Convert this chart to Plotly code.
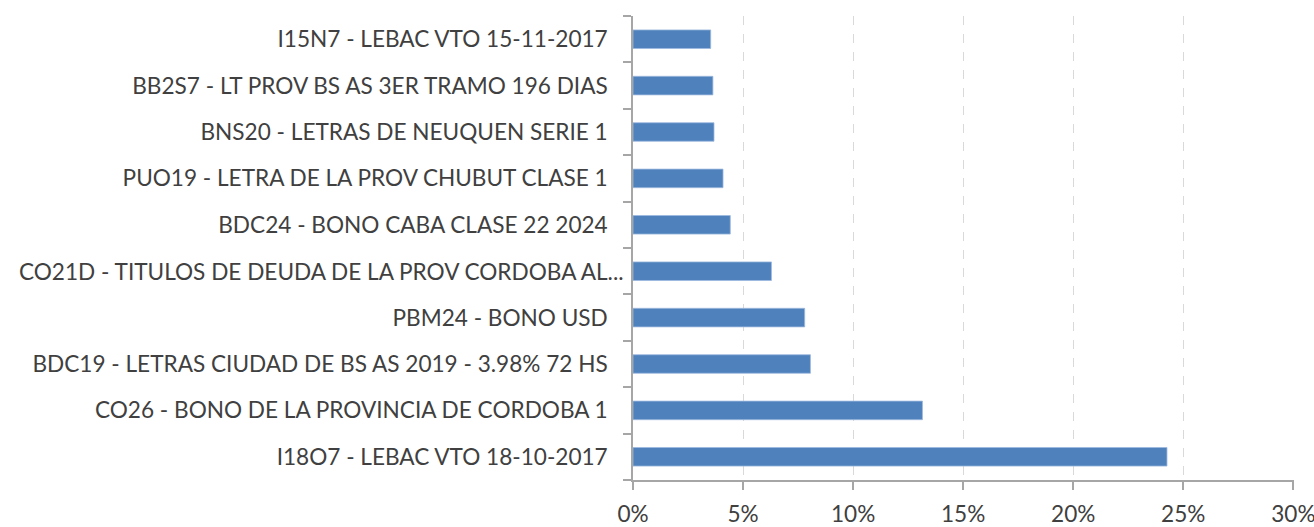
import plotly.graph_objects as go

# Instruments, listed bottom to top as drawn on the category axis
instruments = [
    "I18O7 - LEBAC VTO 18-10-2017",
    "CO26 - BONO DE LA PROVINCIA DE CORDOBA 1",
    "BDC19 - LETRAS CIUDAD DE BS AS 2019 - 3.98% 72 HS",
    "PBM24 - BONO USD",
    "CO21D - TITULOS DE DEUDA DE LA PROV CORDOBA AL...",
    "BDC24 - BONO CABA CLASE 22 2024",
    "PUO19 - LETRA DE LA PROV CHUBUT CLASE 1",
    "BNS20 - LETRAS DE NEUQUEN SERIE 1",
    "BB2S7 - LT PROV BS AS 3ER TRAMO 196 DIAS",
    "I15N7 - LEBAC VTO 15-11-2017",
]
# Portfolio weight of each instrument (fraction)
weights = [0.2426, 0.1315, 0.0806, 0.0780, 0.0629, 0.0442, 0.0409, 0.0368, 0.0363, 0.0353]

x_ticks = [0, 0.05, 0.10, 0.15, 0.20, 0.25, 0.30]
x_tick_labels = ["0%", "5%", "10%", "15%", "20%", "25%", "30%"]

# The truncated (longest) name is drawn as its own label, set closer to the axis
long_name = "CO21D - TITULOS DE DEUDA DE LA PROV CORDOBA AL..."
y_tick_labels = ["" if name == long_name else name for name in instruments]

FONT = "Lato"
SIZE = 22.6
TEXT = "#404040"
AXIS = "#A6A6A6"

fig = go.Figure(
    go.Bar(
        x=weights,
        y=instruments,
        orientation="h",
        marker=dict(color="#4F81BD", line=dict(color="#9DB9DE", width=0.8)),
        hoverinfo="x+y",
    )
)

fig.add_annotation(
    x=0,
    y=long_name,
    xref="x",
    yref="y",
    text=long_name,
    showarrow=False,
    xanchor="right",
    yanchor="middle",
    xshift=-7,
    font=dict(family=FONT, size=SIZE, color=TEXT),
)

fig.update_layout(
    width=1314,
    height=527,
    margin=dict(l=633, r=20, t=16, b=47, autoexpand=False),
    paper_bgcolor="white",
    plot_bgcolor="white",
    bargap=0.6,
    showlegend=False,
    font=dict(family=FONT, size=SIZE, color=TEXT),
)

fig.update_xaxes(
    range=[0, 0.3003],
    tickvals=x_ticks,
    ticktext=x_tick_labels,
    ticks="outside",
    ticklen=8,
    tickcolor=AXIS,
    tickwidth=1.5,
    showline=True,
    linecolor=AXIS,
    linewidth=1.5,
    showgrid=True,
    gridcolor="#D9D9D9",
    griddash="dash",
    gridwidth=1.2,
    zeroline=False,
    ticklabelstandoff=5,
    ticklabeloverflow="allow",
    tickfont=dict(family=FONT, size=SIZE, color=TEXT),
    automargin=False,
)

fig.update_yaxes(
    type="category",
    categoryorder="array",
    categoryarray=instruments,
    tickvals=instruments,
    ticktext=y_tick_labels,
    tickson="boundaries",
    ticks="outside",
    ticklen=8,
    tickcolor=AXIS,
    tickwidth=1.5,
    showline=True,
    linecolor=AXIS,
    linewidth=1.5,
    showgrid=False,
    zeroline=False,
    ticklabelstandoff=19,
    tickfont=dict(family=FONT, size=SIZE, color=TEXT),
    automargin=False,
)

fig.write_html("out.html")
